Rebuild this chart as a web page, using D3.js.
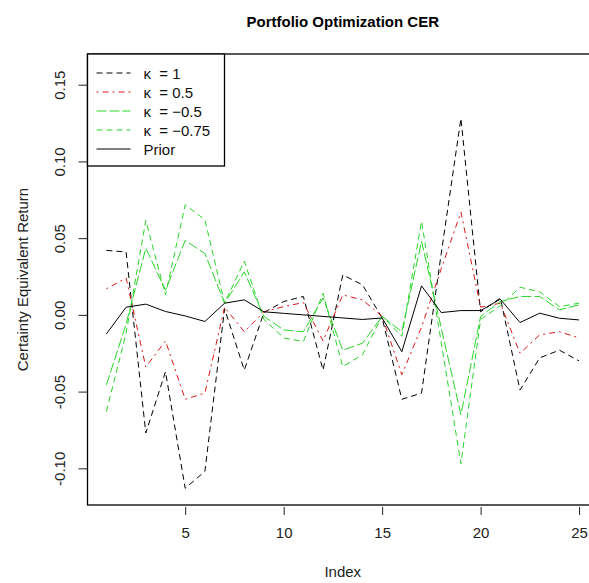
<!DOCTYPE html>
<html>
<head>
<meta charset="utf-8">
<script src="https://cdn.jsdelivr.net/npm/d3@7"></script>
<style>
  html, body { margin: 0; padding: 0; background: #fff; }
  svg { display: block; font-family: "Liberation Sans", Arial, sans-serif; }
</style>
</head>
<body>
<svg id="chart" width="589" height="583"></svg>
<script>
// ---- data ----
const index = d3.range(1, 26);
const kappa1 = [0.042, 0.041, -0.077, -0.037, -0.113, -0.102, 0.004, -0.036, 0.0015, 0.0087, 0.012, -0.036, 0.026, 0.0196, -0.002, -0.055, -0.051, 0.040, 0.128, 0.002, 0.011, -0.049, -0.028, -0.023, -0.030];
const kappa05 = [0.017, 0.024, -0.034, -0.017, -0.055, -0.051, 0.005, -0.011, 0.002, 0.0054, 0.008, -0.017, 0.013, 0.0098, -0.001, -0.039, -0.008, 0.030, 0.067, 0.005, 0.0076, -0.025, -0.013, -0.011, -0.015];
const kappaM05 = [-0.0456, -0.006, 0.0435, 0.016, 0.0485, 0.040, 0.0076, 0.028, -0.001, -0.0098, -0.011, 0.011, -0.023, -0.0185, -0.001, -0.011, 0.048, -0.0085, -0.065, -0.001, 0.0087, 0.012, 0.012, 0.0033, 0.0065];
const kappaM075 = [-0.063, -0.012, 0.0615, 0.013, 0.0717, 0.062, 0.0076, 0.035, -0.003, -0.015, -0.0174, 0.014, -0.0337, -0.026, -0.001, -0.014, 0.061, -0.018, -0.097, -0.003, 0.006, 0.018, 0.015, 0.0054, 0.0076];
const prior = [-0.0124, 0.005, 0.007, 0.0022, -0.0007, -0.0043, 0.0076, 0.0098, 0.002, 0.001, 0.0, -0.001, -0.002, -0.003, -0.002, -0.024, 0.0189, 0.0015, 0.0028, 0.0028, 0.0102, -0.005, 0.0011, -0.0022, -0.0033];
const xTicks = [5, 10, 15, 20, 25];
const yTicks = [-0.10, -0.05, 0.00, 0.05, 0.10, 0.15];
const yTickLabels = ["-0.10", "-0.05", "0.00", "0.05", "0.10", "0.15"];
const seriesNames = ["\u03BA  = 1", "\u03BA  = 0.5", "\u03BA  = \u22120.5", "\u03BA  = \u22120.75", "Prior"];
const seriesValues = [kappa1, kappa05, kappaM05, kappaM075, prior];

// ---- styles ----
const styles = [
  { color: "#000000", dash: "6,4" },
  { color: "#d81818", dash: "2,4,6,4" },
  { color: "#2ad42a", dash: "10,3" },
  { color: "#2ad42a", dash: "6,4" },
  { color: "#000000", dash: null }
];

const svg = d3.select("#chart");
const mLeft = 87.5, mRight = 598, mTop = 54, mBottom = 505;

const x = d3.scaleLinear().domain([0.04, 25.96]).range([mLeft, mRight]);
const y = d3.scaleLinear().domain([-0.1239, 0.170]).range([mBottom, mTop]);

// lines
const line = d3.line().x((d, i) => x(index[i])).y(d => y(d));
seriesValues.forEach((vals, k) => {
  svg.append("path")
    .datum(vals)
    .attr("d", line)
    .attr("fill", "none")
    .attr("stroke", styles[k].color)
    .attr("stroke-width", 1)
    .attr("stroke-dasharray", styles[k].dash);
});

// axes
const xAxis = d3.axisBottom(x).tickValues(xTicks).tickSize(8).tickPadding(12).tickSizeOuter(0);
const gx = svg.append("g").attr("transform", `translate(0,${mBottom + 2})`).call(xAxis);
gx.select(".domain").remove();
gx.selectAll("text").attr("font-size", 15).attr("fill", "#222").attr("font-family", "Liberation Sans, Arial, sans-serif");
gx.selectAll("line").attr("stroke", "#222");

const yAxis = d3.axisLeft(y).tickValues(yTicks).tickFormat((d, i) => yTickLabels[i]).tickSize(9).tickSizeOuter(0);
const gy = svg.append("g").attr("transform", `translate(${mLeft},0)`).call(yAxis);
gy.select(".domain").remove();
gy.selectAll("line").attr("stroke", "#222");
gy.selectAll("text")
  .attr("font-size", 15).attr("fill", "#222").attr("font-family", "Liberation Sans, Arial, sans-serif")
  .attr("text-anchor", "middle")
  .attr("x", 0).attr("dy", null)
  .attr("transform", "translate(-23,0) rotate(-90)")
  .attr("y", 0);

// plot box
svg.append("rect")
  .attr("x", mLeft).attr("y", mTop)
  .attr("width", mRight - mLeft).attr("height", mBottom - mTop)
  .attr("fill", "none").attr("stroke", "#000").attr("stroke-width", 1.3);

// title & axis labels
svg.append("text").attr("x", (mLeft + mRight) / 2).attr("y", 27)
  .attr("text-anchor", "middle").attr("font-weight", "bold").attr("font-size", 15)
  .text("Portfolio Optimization CER");
svg.append("text").attr("x", (mLeft + mRight) / 2).attr("y", 577)
  .attr("text-anchor", "middle").attr("font-size", 15).attr("fill", "#222")
  .text("Index");
svg.append("text")
  .attr("transform", `translate(28,${(mTop + mBottom) / 2}) rotate(-90)`)
  .attr("text-anchor", "middle").attr("font-size", 15).attr("fill", "#222")
  .text("Certainty Equivalent Return");

// legend
const lg = svg.append("g");
lg.append("rect").attr("x", mLeft).attr("y", mTop).attr("width", 137).attr("height", 112)
  .attr("fill", "#fff").attr("stroke", "#000").attr("stroke-width", 1.3);
seriesNames.forEach((name, k) => {
  const yy = mTop + 19 + k * 19;
  lg.append("line").attr("x1", mLeft + 9).attr("x2", mLeft + 43).attr("y1", yy).attr("y2", yy)
    .attr("stroke", styles[k].color).attr("stroke-width", 1).attr("stroke-dasharray", styles[k].dash);
  lg.append("text").attr("x", mLeft + 56).attr("y", yy + 5.5).attr("font-size", 15).attr("fill", "#111")
    .style("white-space", "pre")
    .text(name);
});
</script>
</body>
</html>
